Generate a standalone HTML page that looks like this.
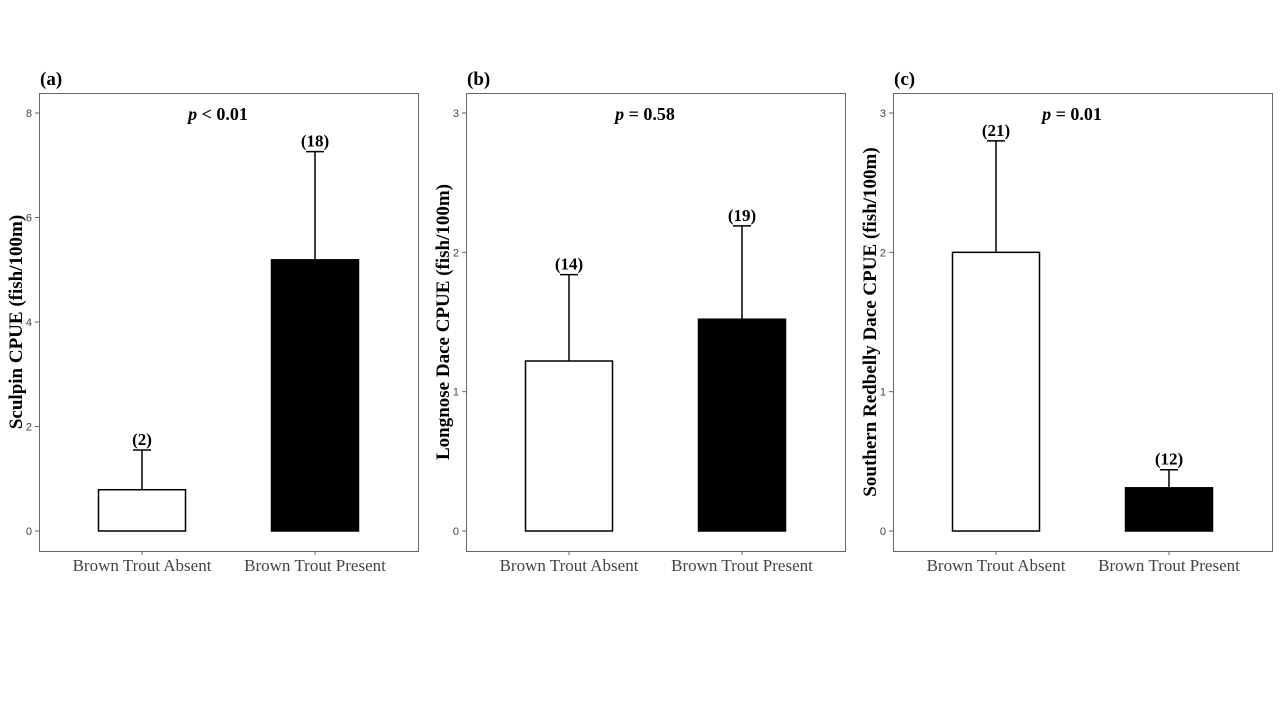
<!DOCTYPE html>
<html><head><meta charset="utf-8"><style>
body{margin:0;background:#fff;width:1280px;height:720px;overflow:hidden}
svg text{font-family:"Liberation Serif",serif}
</style></head><body>
<svg id="chart" width="1280" height="720" viewBox="0 0 1280 720"></svg>
<script>
const categories = ["Brown Trout Absent","Brown Trout Present"];
const panelLetters = ["(a)","(b)","(c)"];
const yTitles = ["Sculpin CPUE (fish/100m)","Longnose Dace CPUE (fish/100m)","Southern Redbelly Dace CPUE (fish/100m)"];
const pLabels = [["<"," 0.01"],["="," 0.58"],["="," 0.01"]];
const yMaxes = [8,3,3];
const yTicksA = [0,2,4,6,8];
const yTicksBC = [0,1,2,3];
const meansA = [0.79,5.19];
const errsA = [1.55,7.26];
const meansB = [1.22,1.52];
const errsB = [1.84,2.19];
const meansC = [2.0,0.31];
const errsC = [2.8,0.44];
const nA = ["(2)","(18)"];
const nB = ["(14)","(19)"];
const nC = ["(21)","(12)"];

const NS="http://www.w3.org/2000/svg";
const svg=document.getElementById('chart');
function mk(tag,attrs,parent,txt){const e=document.createElementNS(NS,tag);for(const k in attrs)e.setAttribute(k,attrs[k]);if(txt!==undefined)e.textContent=txt;(parent||svg).appendChild(e);return e;}
const panels=[
 {x0:39,means:meansA,errs:errsA,ns:nA,ticks:yTicksA},
 {x0:466,means:meansB,errs:errsB,ns:nB,ticks:yTicksBC},
 {x0:893,means:meansC,errs:errsC,ns:nC,ticks:yTicksBC}];
const W=379,frameTop=93,frameBot=551,y0=531,yTop=113;
panels.forEach((p,i)=>{
 const g=mk('g',{});
 
 
 const y=v=>y0-(v/yMaxes[i])*(y0-yTop);
 const xc=k=>p.x0+103+k*173;
 const t=mk('text',{x:p.x0+1,y:85,'font-size':19,'font-weight':'bold'},g,panelLetters[i]);
 
 
 const fr=mk('rect',{x:p.x0+0.5,y:frameTop+0.5,width:W,height:frameBot-frameTop,fill:'none',stroke:'#666','stroke-width':1},g);
 
 
 p.ticks.forEach(v=>{
  mk('line',{x1:p.x0-4,x2:p.x0,y1:y(v),y2:y(v),stroke:'#666'},g);
  const tl=mk('text',{x:p.x0-7,y:y(v)+4,'font-size':11,'text-anchor':'end',fill:'#444',style:'font-family:"Liberation Sans",sans-serif'},g,v);
  
  
 });
 const yt=mk('text',{transform:`translate(${p.x0-17},${(frameTop+frameBot)/2}) rotate(-90)`,'font-size':19,'font-weight':'bold','text-anchor':'middle'},g,yTitles[i]);
 
 
 const pt=mk('text',{x:p.x0+179,y:120,'font-size':18,'font-weight':'bold','text-anchor':'middle'},g);
 
 
 mk('tspan',{'font-style':'italic'},pt,'p ');mk('tspan',{},pt,pLabels[i][0]+pLabels[i][1]);
 categories.forEach((c,k)=>{
  const cx=xc(k);
  mk('line',{x1:cx,x2:cx,y1:frameBot,y2:frameBot+4,stroke:'#666'},g);
  const xl=mk('text',{x:cx,y:571,'font-size':17,'text-anchor':'middle',fill:'#444'},g,c);
  
  
  const eb=mk('path',{d:`M${cx} ${y(p.means[k])}V${y(p.errs[k])}M${cx-9} ${y(p.errs[k])}H${cx+9}`,stroke:'#000','stroke-width':1.5,fill:'none'},g);
  
  
  const b=mk('rect',{x:cx-43.5,y:y(p.means[k]),width:87,height:y(0)-y(p.means[k]),fill:k?'#000':'#fff',stroke:'#000','stroke-width':1.5},g);
  
  
  const nl=mk('text',{x:cx,y:y(p.errs[k])-5,'font-size':17,'font-weight':'bold','text-anchor':'middle'},g,p.ns[k]);
  
  
 });
});
</script>
</body></html>
